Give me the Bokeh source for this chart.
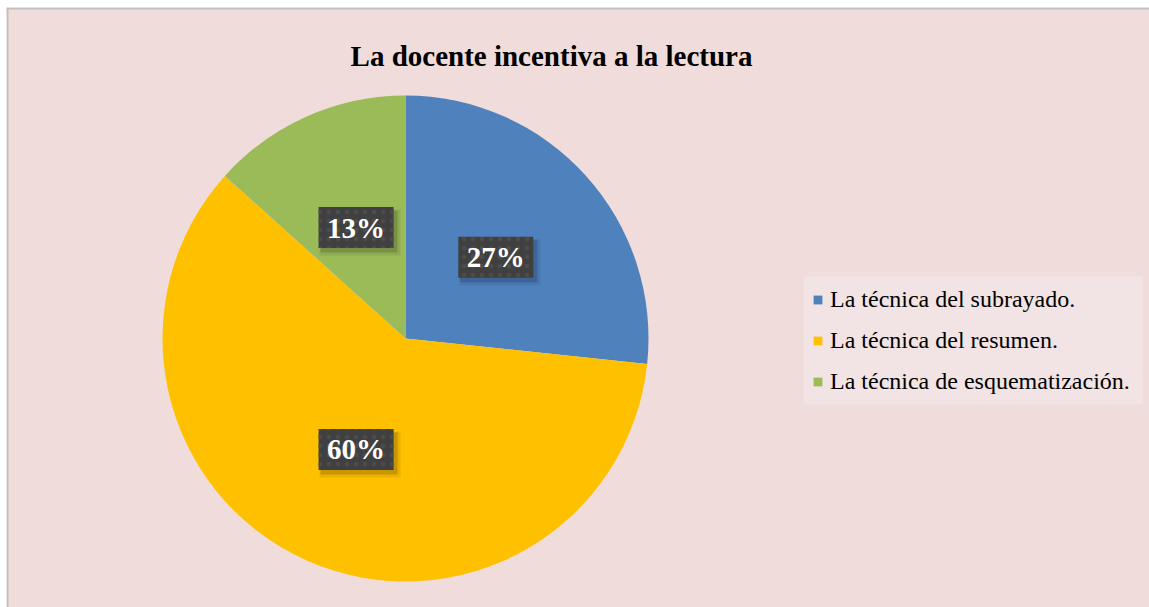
import math
from bokeh.plotting import figure
from bokeh.models import Range1d, Legend, LegendItem
from bokeh.core.properties import value
from bokeh.embed import file_html
from bokeh.resources import INLINE

title = "La docente incentiva a la lectura"
categories = ["La técnica del subrayado.", "La técnica del resumen.", "La técnica de esquematización."]
counts = [4, 9, 2]
labels = ["27%", "60%", "13%"]
colors = ["#4F81BD", "#FFC000", "#9BBB59"]

W, H = 1149, 607
LEFT, TOP = 6, 7
p = figure(width=W, height=H, output_backend="svg", toolbar_location=None,
           x_range=Range1d(LEFT, W), y_range=Range1d(0, H - TOP),
           min_border_left=LEFT, min_border_top=TOP, min_border_right=0, min_border_bottom=0,
           background_fill_color="#F1DCDC", border_fill_color="white",
           outline_line_color=None)
p.xaxis.visible = False
p.yaxis.visible = False
p.grid.visible = False

# chart-area border (left and top only visible)
p.segment(x0=[LEFT + 1, LEFT], y0=[0, H - TOP - 1], x1=[LEFT + 1, W], y1=[H - TOP, H - TOP - 1],
          line_color="#BFBFBF", line_width=2)

# legend background panel
p.quad(left=[803], right=[1142], bottom=[607 - 404], top=[607 - 276],
       fill_color="#F2E4E4", line_color=None)

cx, cy, R = 405, 269, 243
total = sum(counts)
starts, ends, mids = [], [], []
a = math.pi / 2
for c in counts:
    sweep = 2 * math.pi * c / total
    starts.append(a)
    ends.append(a - sweep)
    mids.append(a - sweep / 2)
    a -= sweep

items = []
for i in range(3):
    r = p.wedge(x=cx, y=cy, radius=R, radius_units="screen", start_angle=ends[i], end_angle=starts[i],
                direction="anticlock", fill_color=colors[i], line_color=None)
    items.append(LegendItem(label=categories[i], renderers=[r]))

lx = [cx + 0.5 * R * math.cos(m) for m in mids]
ly = [cy + 0.5 * R * math.sin(m) for m in mids]
# soft shadows
p.rect(x=[x + 4 for x in lx], y=[y - 5 for y in ly], width=81, height=46, width_units="screen",
       height_units="screen", fill_color="black", fill_alpha=0.08, line_color=None)
p.rect(x=[x + 3 for x in lx], y=[y - 4 for y in ly], width=77, height=42, width_units="screen",
       height_units="screen", fill_color="black", fill_alpha=0.15, line_color=None)
p.rect(x=lx, y=ly, width=75, height=41, width_units="screen", height_units="screen",
       fill_color="#404040", line_color=None, hatch_pattern="dot", hatch_color="#4C4C4C",
       hatch_scale=9, hatch_weight=1)
p.text(x=lx, y=ly, text=labels, text_align="center", text_baseline="middle",
       text_font=value("Liberation Serif"), text_font_style="bold", text_font_size="29px",
       text_color="white")

p.text(x=[551], y=[552], text=[title], text_align="center", text_baseline="middle",
       text_font=value("Liberation Serif"), text_font_style="bold", text_font_size="29px",
       text_color="black")

legend = Legend(items=items, location=(806, 212), margin=0, padding=10,
                background_fill_alpha=0.0,
                border_line_color=None, label_text_font="Liberation Serif",
                label_text_font_size="24px", label_text_color="black",
                glyph_width=11, glyph_height=11, label_height=24, spacing=14,
                label_standoff=7)
p.add_layout(legend)

open("out.html", "w").write(file_html(p, INLINE))
